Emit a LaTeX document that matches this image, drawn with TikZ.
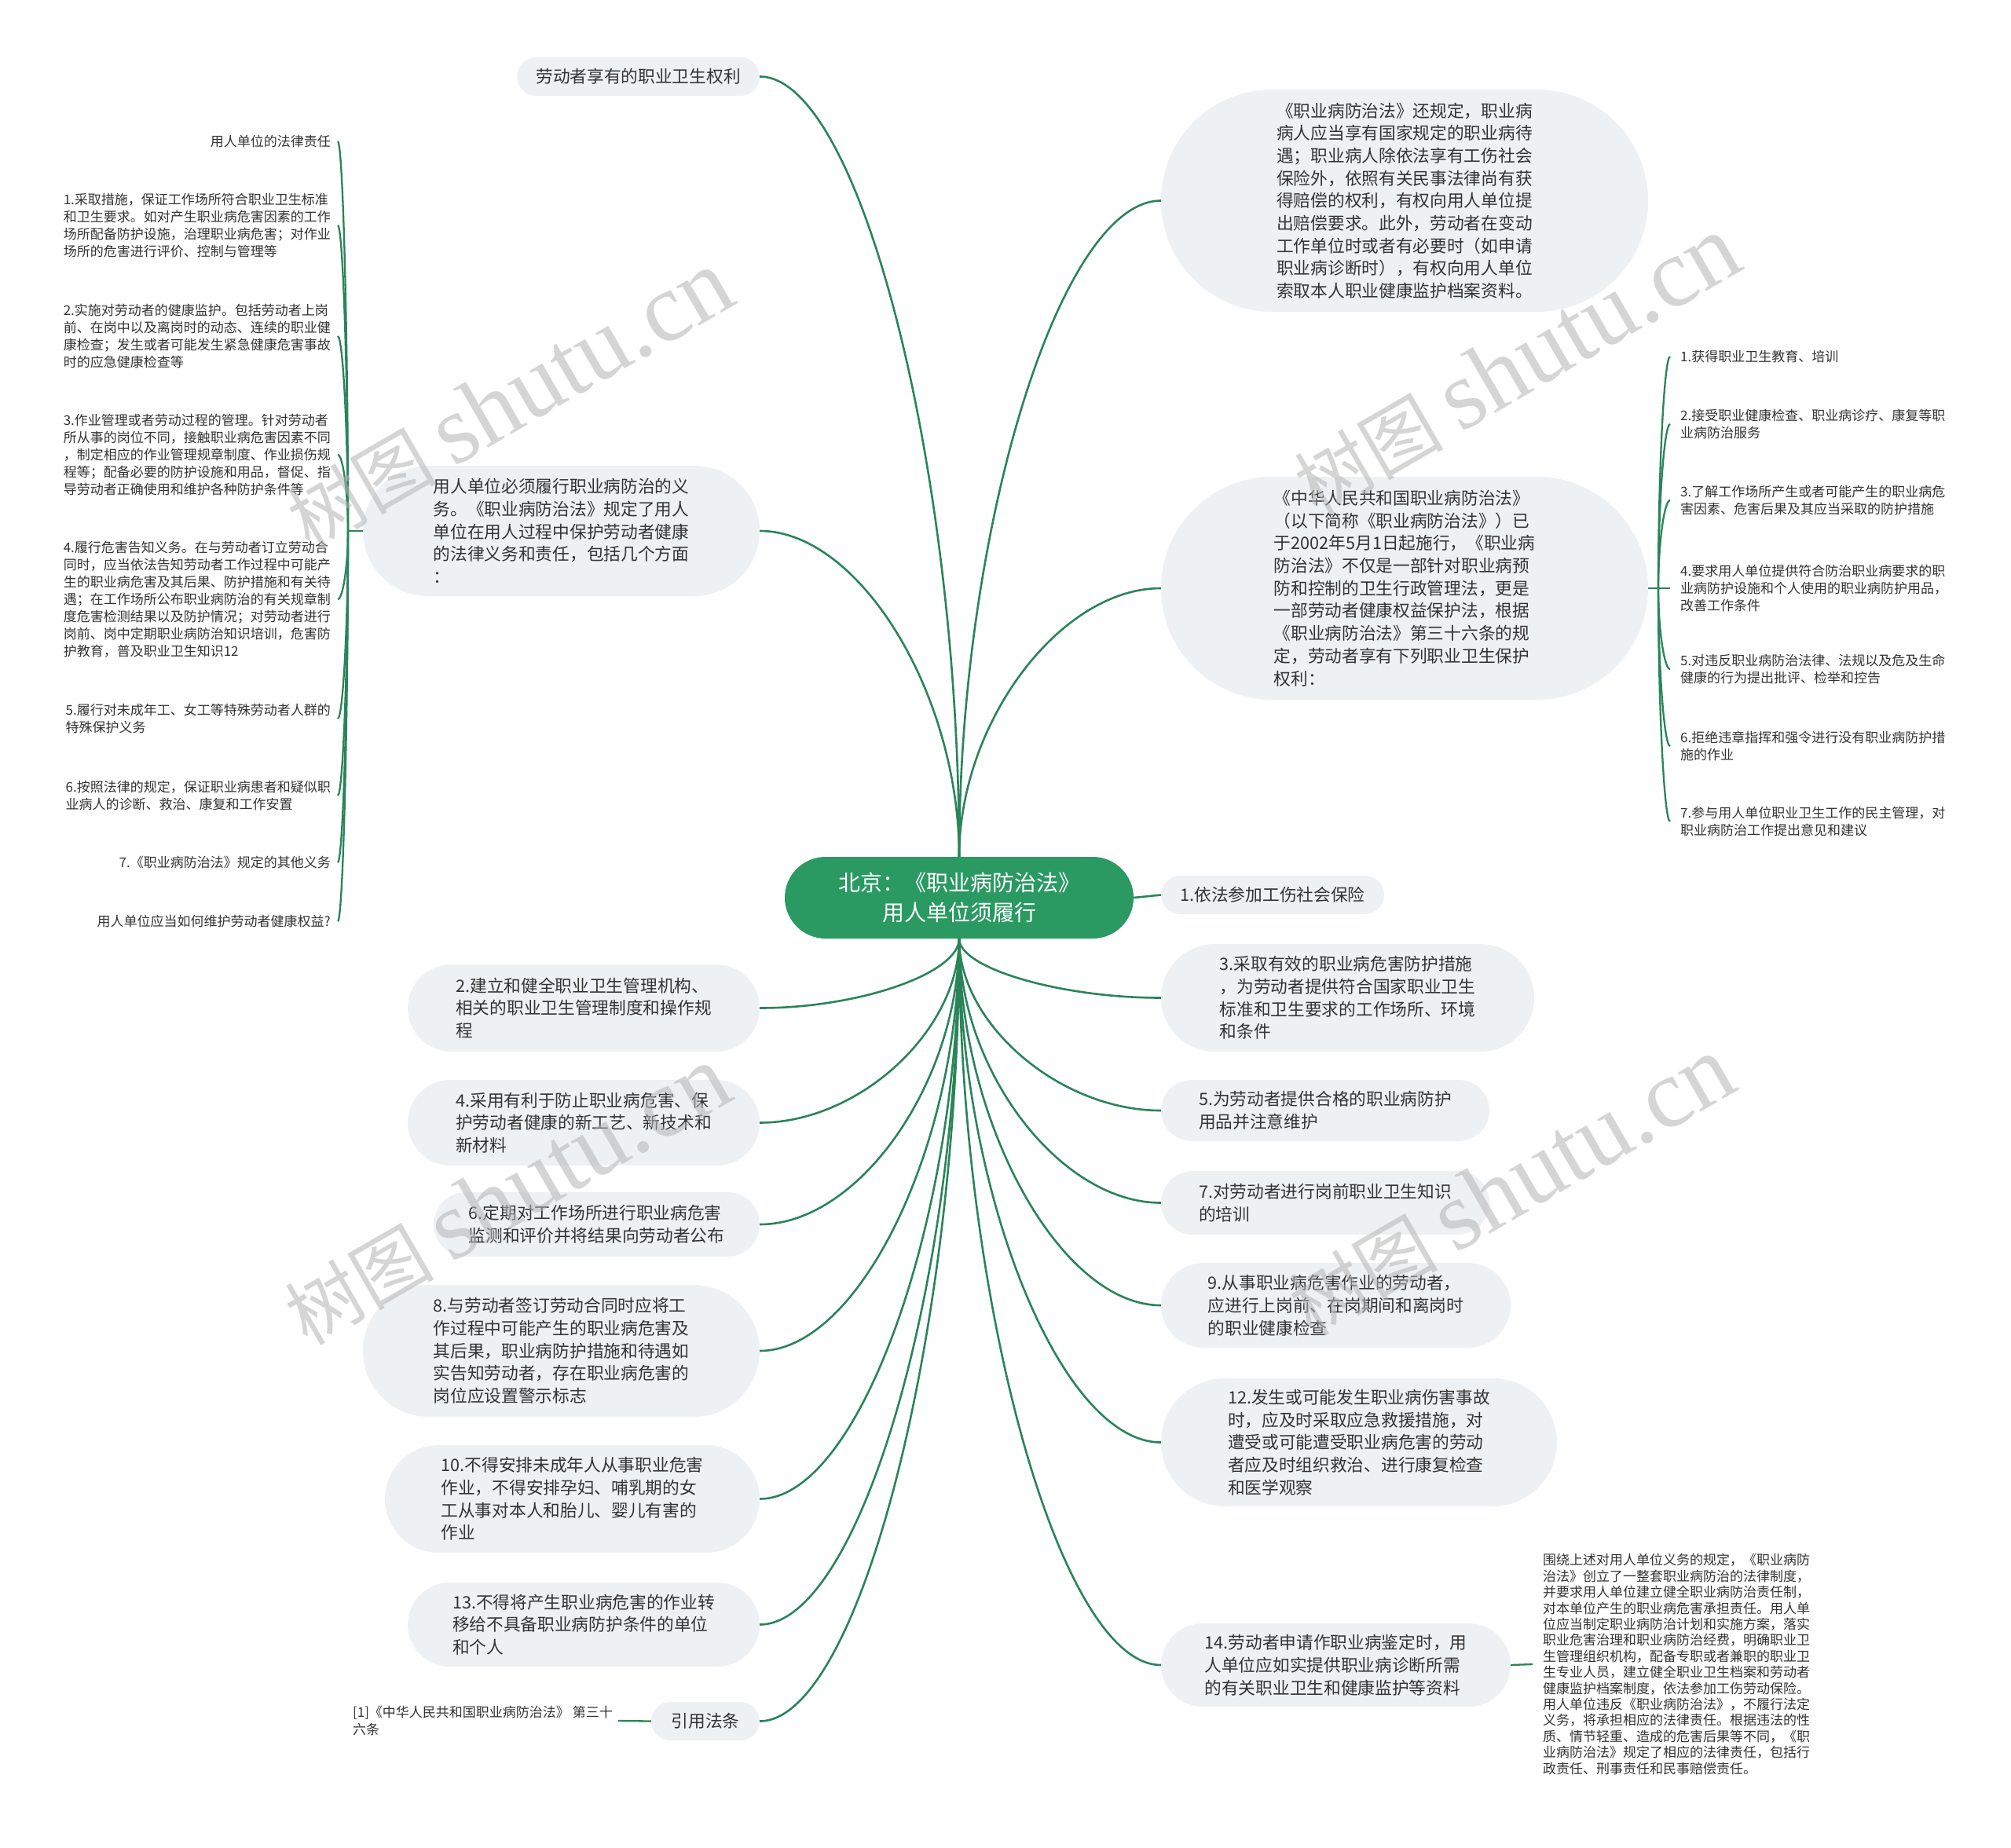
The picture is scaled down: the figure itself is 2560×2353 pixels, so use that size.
\documentclass[tikz,border=0pt]{standalone}
\usepackage{fontspec}
\setmainfont{Noto Sans CJK SC}
\newfontfamily\wmlatin{Liberation Serif}
\definecolor{connc}{HTML}{2A845A}
\definecolor{rootbg}{HTML}{2A9A62}
\definecolor{pillbg}{HTML}{EEF1F4}
\definecolor{txt}{HTML}{333333}
\definecolor{wmc}{HTML}{B4B4B4}
\pgfdeclarelayer{paper}
\pgfdeclarelayer{bg}
\pgfdeclarelayer{fg}
\pgfsetlayers{paper,bg,main,fg}
\begin{document}
\begin{tikzpicture}[x=1pt,y=-1pt,
  pill/.style={fill=pillbg, text=txt, font=\fontsize{21.7pt}{28.7pt}\selectfont, align=left, inner sep=0pt},
  leaf/.style={text=txt, font=\fontsize{17pt}{22pt}\selectfont, align=left, inner ysep=0pt},
  link/.style={draw=connc, line width=2.6pt},
  sublink/.style={draw=connc, line width=2.3pt},
  rootnode/.style={fill=rootbg, text=white, font=\fontsize{28pt}{37.5pt}\selectfont, align=center, rounded corners=52pt, minimum width=444pt, minimum height=104pt, inner sep=0pt},
  wmark/.style={text=wmc, opacity=0.55, rotate=30, inner sep=0pt}]
\begin{pgfonlayer}{paper}
\fill[white] (0,0) rectangle (2560,2353);
\end{pgfonlayer}
\useasboundingbox (0,0) rectangle (2560,2353);

% root
\node[rootnode] (root) at (1221,1143) {北京：《职业病防治法》\\用人单位须履行};

% left pills
\node[pill, minimum width=309pt, minimum height=49pt, rounded corners=24.5pt] (A) at (812.5,97.5) {劳动者享有的职业卫生权利};
\node[pill, minimum width=505pt, minimum height=166pt, rounded corners=83pt] (B) at (714.5,676) {用人单位必须履行职业病防治的义\\务。《职业病防治法》规定了用人\\单位在用人过程中保护劳动者健康\\的法律义务和责任，包括几个方面\\：};
\node[pill, minimum width=448pt, minimum height=111pt, rounded corners=55.5pt] (C) at (743,1283.5) {2.建立和健全职业卫生管理机构、\\相关的职业卫生管理制度和操作规\\程};
\node[pill, minimum width=448pt, minimum height=109pt, rounded corners=54.5pt] (D) at (743,1429.5) {4.采用有利于防止职业病危害、保\\护劳动者健康的新工艺、新技术和\\新材料};
\node[pill, minimum width=415pt, minimum height=82pt, rounded corners=41pt] (E) at (759.5,1559) {6.定期对工作场所进行职业病危害\\监测和评价并将结果向劳动者公布};
\node[pill, minimum width=505pt, minimum height=168pt, rounded corners=84pt] (F) at (714.5,1720) {8.与劳动者签订劳动合同时应将工\\作过程中可能产生的职业病危害及\\其后果，职业病防护措施和待遇如\\实告知劳动者，存在职业病危害的\\岗位应设置警示标志};
\node[pill, minimum width=477pt, minimum height=137pt, rounded corners=68.5pt] (G) at (728.5,1908.5) {10.不得安排未成年人从事职业危害\\作业，不得安排孕妇、哺乳期的女\\工从事对本人和胎儿、婴儿有害的\\作业};
\node[pill, minimum width=448pt, minimum height=107pt, rounded corners=53.5pt] (H) at (743,2068.5) {13.不得将产生职业病危害的作业转\\移给不具备职业病防护条件的单位\\和个人};
\node[pill, minimum width=138pt, minimum height=49pt, rounded corners=24.5pt] (I) at (898,2191.5) {引用法条};

% right pills
\node[pill, minimum width=620pt, minimum height=283pt, rounded corners=141.5pt] (J) at (1788,255.5) {《职业病防治法》还规定，职业病\\病人应当享有国家规定的职业病待\\遇；职业病人除依法享有工伤社会\\保险外，依照有关民事法律尚有获\\得赔偿的权利，有权向用人单位提\\出赔偿要求。此外，劳动者在变动\\工作单位时或者有必要时（如申请\\职业病诊断时），有权向用人单位\\索取本人职业健康监护档案资料。};
\node[pill, minimum width=620pt, minimum height=284pt, rounded corners=142pt] (K) at (1788,749) {《中华人民共和国职业病防治法》\\（以下简称《职业病防治法》）已\\于2002年5月1日起施行，《职业病\\防治法》不仅是一部针对职业病预\\防和控制的卫生行政管理法，更是\\一部劳动者健康权益保护法，根据\\《职业病防治法》第三十六条的规\\定，劳动者享有下列职业卫生保护\\权利：};
\node[pill, minimum width=284pt, minimum height=49pt, rounded corners=24.5pt] (L) at (1620,1139.5) {1.依法参加工伤社会保险};
\node[pill, minimum width=475pt, minimum height=137pt, rounded corners=68.5pt] (M) at (1715.5,1270.5) {3.采取有效的职业病危害防护措施\\，为劳动者提供符合国家职业卫生\\标准和卫生要求的工作场所、环境\\和条件};
\node[pill, minimum width=418pt, minimum height=78pt, rounded corners=39pt] (N) at (1687,1414) {5.为劳动者提供合格的职业病防护\\用品并注意维护};
\node[pill, minimum width=418pt, minimum height=81pt, rounded corners=40.5pt] (O) at (1687,1531.5) {7.对劳动者进行岗前职业卫生知识\\的培训};
\node[pill, minimum width=445pt, minimum height=108pt, rounded corners=54pt] (P) at (1700.5,1662) {9.从事职业病危害作业的劳动者，\\应进行上岗前、在岗期间和离岗时\\的职业健康检查};
\node[pill, minimum width=504pt, minimum height=163pt, rounded corners=81.5pt] (Q) at (1730,1836.5) {12.发生或可能发生职业病伤害事故\\时，应及时采取应急救援措施，对\\遭受或可能遭受职业病危害的劳动\\者应及时组织救治、进行康复检查\\和医学观察};
\node[pill, minimum width=445pt, minimum height=106pt, rounded corners=53pt] (R) at (1700.5,2120) {14.劳动者申请作职业病鉴定时，用\\人单位应如实提供职业病诊断所需\\的有关职业卫生和健康监护等资料};

% left leaves
\node[leaf, anchor=east, inner xsep=9pt] (L0) at (430,180) {用人单位的法律责任};
\node[leaf, anchor=east, inner xsep=9pt] (L1) at (430,287) {1.采取措施，保证工作场所符合职业卫生标准\\和卫生要求。如对产生职业病危害因素的工作\\场所配备防护设施，治理职业病危害；对作业\\场所的危害进行评价、控制与管理等};
\node[leaf, anchor=east, inner xsep=9pt] (L2) at (430,428) {2.实施对劳动者的健康监护。包括劳动者上岗\\前、在岗中以及离岗时的动态、连续的职业健\\康检查；发生或者可能发生紧急健康危害事故\\时的应急健康检查等};
\node[leaf, anchor=east, inner xsep=9pt] (L3) at (430,579) {3.作业管理或者劳动过程的管理。针对劳动者\\所从事的岗位不同，接触职业病危害因素不同\\，制定相应的作业管理规章制度、作业损伤规\\程等；配备必要的防护设施和用品，督促、指\\导劳动者正确使用和维护各种防护条件等};
\node[leaf, anchor=east, inner xsep=9pt] (L4) at (430,763) {4.履行危害告知义务。在与劳动者订立劳动合\\同时，应当依法告知劳动者工作过程中可能产\\生的职业病危害及其后果、防护措施和有关待\\遇；在工作场所公布职业病防治的有关规章制\\度危害检测结果以及防护情况；对劳动者进行\\岗前、岗中定期职业病防治知识培训，危害防\\护教育，普及职业卫生知识12};
\node[leaf, anchor=east, inner xsep=9pt] (L5) at (430,915) {5.履行对未成年工、女工等特殊劳动者人群的\\特殊保护义务};
\node[leaf, anchor=east, inner xsep=9pt] (L6) at (430,1013) {6.按照法律的规定，保证职业病患者和疑似职\\业病人的诊断、救治、康复和工作安置};
\node[leaf, anchor=east, inner xsep=9pt] (L7) at (430,1098) {7.《职业病防治法》规定的其他义务};
\node[leaf, anchor=east, inner xsep=9pt] (L8) at (430,1173) {用人单位应当如何维护劳动者健康权益?};

% right leaves
\node[leaf, anchor=west, inner xsep=13pt] (R1) at (2126,454) {1.获得职业卫生教育、培训};
\node[leaf, anchor=west, inner xsep=13pt] (R2) at (2126,540) {2.接受职业健康检查、职业病诊疗、康复等职\\业病防治服务};
\node[leaf, anchor=west, inner xsep=13pt] (R3) at (2126,637) {3.了解工作场所产生或者可能产生的职业病危\\害因素、危害后果及其应当采取的防护措施};
\node[leaf, anchor=west, inner xsep=13pt] (R4) at (2126,749) {4.要求用人单位提供符合防治职业病要求的职\\业病防护设施和个人使用的职业病防护用品，\\改善工作条件};
\node[leaf, anchor=west, inner xsep=13pt] (R5) at (2126,852) {5.对违反职业病防治法律、法规以及危及生命\\健康的行为提出批评、检举和控告};
\node[leaf, anchor=west, inner xsep=13pt] (R6) at (2126,950) {6.拒绝违章指挥和强令进行没有职业病防护措\\施的作业};
\node[leaf, anchor=west, inner xsep=13pt] (R7) at (2126,1046) {7.参与用人单位职业卫生工作的民主管理，对\\职业病防治工作提出意见和建议};

% long text
\node[leaf, anchor=west, inner xsep=13pt, font=\fontsize{17pt}{20.4pt}\selectfont] (LT) at (1951,2119) {围绕上述对用人单位义务的规定，《职业病防\\治法》创立了一整套职业病防治的法律制度，\\并要求用人单位建立健全职业病防治责任制，\\对本单位产生的职业病危害承担责任。用人单\\位应当制定职业病防治计划和实施方案，落实\\职业危害治理和职业病防治经费，明确职业卫\\生管理组织机构，配备专职或者兼职的职业卫\\生专业人员，建立健全职业卫生档案和劳动者\\健康监护档案制度，依法参加工伤劳动保险。\\用人单位违反《职业病防治法》，不履行法定\\义务，将承担相应的法律责任。根据违法的性\\质、情节轻重、造成的危害后果等不同，《职\\业病防治法》规定了相应的法律责任，包括行\\政责任、刑事责任和民事赔偿责任。};

% reference text
\node[leaf, anchor=east, inner xsep=7pt] (RF) at (787,2191) {[1]《中华人民共和国职业病防治法》 第三十\\六条};

\coordinate (sb) at (443,676);
\coordinate (sk) at (2111,749);

\begin{pgfonlayer}{bg}
% main connectors (upper)
\draw[link] (root.north) .. controls (1221,594.25) and (1094,97.5) .. (A.east);
\draw[link] (root.north) .. controls (1221,883.5) and (1094,676) .. (B.east);
\draw[link] (root.north) .. controls (1221,673.25) and (1349.5,255.5) .. (J.west);
\draw[link] (root.north) .. controls (1221,920) and (1349.5,749) .. (K.west);
% level
\draw[link] (root.east) -- (L.west);
% main connectors (lower left)
\draw[link] (root.south) .. controls (1221,1239.25) and (1094,1283.5) .. (C.east);
\draw[link] (root.south) .. controls (1221,1312.25) and (1094,1429.5) .. (D.east);
\draw[link] (root.south) .. controls (1221,1377) and (1094,1559) .. (E.east);
\draw[link] (root.south) .. controls (1221,1457.5) and (1094,1720) .. (F.east);
\draw[link] (root.south) .. controls (1221,1551.75) and (1094,1908.5) .. (G.east);
\draw[link] (root.south) .. controls (1221,1631.75) and (1094,2068.5) .. (H.east);
\draw[link] (root.south) .. controls (1221,1693.25) and (1094,2191.5) .. (I.east);
% main connectors (lower right)
\draw[link] (root.south) .. controls (1221,1232.75) and (1349.5,1270.5) .. (M.west);
\draw[link] (root.south) .. controls (1221,1304.5) and (1349.5,1414) .. (N.west);
\draw[link] (root.south) .. controls (1221,1363.25) and (1349.5,1531.5) .. (O.west);
\draw[link] (root.south) .. controls (1221,1428.5) and (1349.5,1662) .. (P.west);
\draw[link] (root.south) .. controls (1221,1515.75) and (1349.5,1836.5) .. (Q.west);
\draw[link] (root.south) .. controls (1221,1657.5) and (1349.5,2120) .. (R.west);
% sub connectors left
\draw[sublink] (B.west) -- (sb);
\draw[sublink] (sb) .. controls (443,428) and (436.5,180) .. (L0.east);
\draw[sublink] (sb) .. controls (443,481.5) and (436.5,287) .. (L1.east);
\draw[sublink] (sb) .. controls (443,552) and (436.5,428) .. (L2.east);
\draw[sublink] (sb) .. controls (443,627.5) and (436.5,579) .. (L3.east);
\draw[sublink] (sb) .. controls (443,719.5) and (436.5,763) .. (L4.east);
\draw[sublink] (sb) .. controls (443,795.5) and (436.5,915) .. (L5.east);
\draw[sublink] (sb) .. controls (443,844.5) and (436.5,1013) .. (L6.east);
\draw[sublink] (sb) .. controls (443,887) and (436.5,1098) .. (L7.east);
\draw[sublink] (sb) .. controls (443,924.5) and (436.5,1173) .. (L8.east);
% sub connectors right
\draw[sublink] (K.east) -- (sk);
\draw[sublink] (sk) .. controls (2111,601.5) and (2118.5,454) .. (R1.west);
\draw[sublink] (sk) .. controls (2111,644.5) and (2118.5,540) .. (R2.west);
\draw[sublink] (sk) .. controls (2111,693) and (2118.5,637) .. (R3.west);
\draw[sublink] (sk) -- (R4.west);
\draw[sublink] (sk) .. controls (2111,800.5) and (2118.5,852) .. (R5.west);
\draw[sublink] (sk) .. controls (2111,849.5) and (2118.5,950) .. (R6.west);
\draw[sublink] (sk) .. controls (2111,897.5) and (2118.5,1046) .. (R7.west);
% other
\draw[sublink] (R.east) -- (LT.west);
\draw[sublink] (I.west) -- (RF.east);
\end{pgfonlayer}

% watermarks
\begin{pgfonlayer}{fg}
\node[wmark] (W1) at (648,509) {\fontsize{95pt}{95pt}\selectfont 树图 {\wmlatin\fontsize{125pt}{125pt}\selectfont shutu.cn}};
\node[wmark] (W2) at (1930,465) {\fontsize{95pt}{95pt}\selectfont 树图 {\wmlatin\fontsize{125pt}{125pt}\selectfont shutu.cn}};
\node[wmark] (W3) at (645,1522) {\fontsize{95pt}{95pt}\selectfont 树图 {\wmlatin\fontsize{125pt}{125pt}\selectfont shutu.cn}};
\node[wmark] (W4) at (1923,1510) {\fontsize{95pt}{95pt}\selectfont 树图 {\wmlatin\fontsize{125pt}{125pt}\selectfont shutu.cn}};
\end{pgfonlayer}
\end{tikzpicture}
\end{document}
